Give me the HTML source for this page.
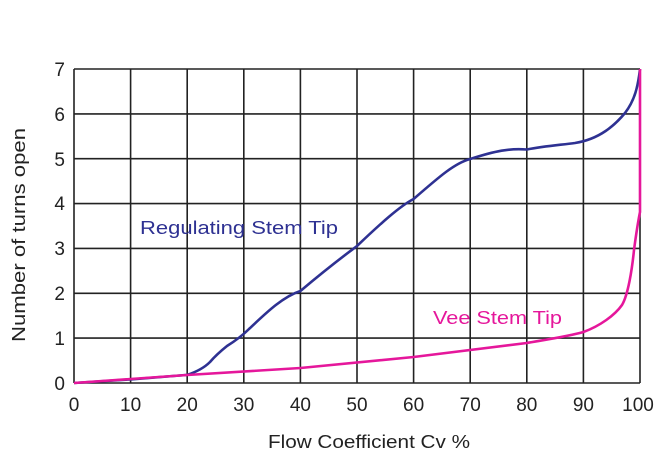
<!DOCTYPE html>
<html><head><style>body{margin:0;background:#fff}svg{display:block}</style></head><body>
<svg width="658" height="463" xmlns="http://www.w3.org/2000/svg" font-family="Liberation Sans, sans-serif">
<g stroke="#222" stroke-width="1.6">
<line x1="74" y1="69" x2="74" y2="383"/><line x1="130.6" y1="69" x2="130.6" y2="383"/><line x1="187.2" y1="69" x2="187.2" y2="383"/><line x1="243.8" y1="69" x2="243.8" y2="383"/><line x1="300.4" y1="69" x2="300.4" y2="383"/><line x1="357" y1="69" x2="357" y2="383"/><line x1="413.6" y1="69" x2="413.6" y2="383"/><line x1="470.2" y1="69" x2="470.2" y2="383"/><line x1="526.8" y1="69" x2="526.8" y2="383"/><line x1="583.4" y1="69" x2="583.4" y2="383"/><line x1="640" y1="69" x2="640" y2="383"/>
<line x1="74" y1="69" x2="640" y2="69"/><line x1="74" y1="113.9" x2="640" y2="113.9"/><line x1="74" y1="158.7" x2="640" y2="158.7"/><line x1="74" y1="203.6" x2="640" y2="203.6"/><line x1="74" y1="248.4" x2="640" y2="248.4"/><line x1="74" y1="293.3" x2="640" y2="293.3"/><line x1="74" y1="338.1" x2="640" y2="338.1"/><line x1="74" y1="383" x2="640" y2="383"/>
</g>
<g font-size="19" fill="#222" text-anchor="end">
<text x="65" y="390">0</text><text x="65" y="345">1</text><text x="65" y="300">2</text><text x="65" y="255">3</text><text x="65" y="210">4</text><text x="65" y="166">5</text><text x="65" y="121">6</text><text x="65" y="76">7</text>
</g>
<g font-size="19" fill="#222" text-anchor="middle">
<text x="74" y="411">0</text><text x="130.6" y="411">10</text><text x="187.2" y="411">20</text><text x="243.8" y="411">30</text><text x="300.4" y="411">40</text><text x="357" y="411">50</text><text x="413.6" y="411">60</text><text x="470.2" y="411">70</text><text x="526.8" y="411">80</text><text x="583.4" y="411">90</text><text x="638" y="411">100</text>
</g>
<text x="268" y="448" font-size="18" fill="#222" textLength="202" lengthAdjust="spacingAndGlyphs">Flow Coefficient Cv %</text>
<text transform="translate(25,342) rotate(-90)" font-size="18" fill="#222" textLength="214" lengthAdjust="spacingAndGlyphs">Number of turns open</text>
<path d="M74,383 L130.6,379.4 L187.2,374.9 C196,372 204,368 210,362 C216,355 222,350 227,346 C235,341 243,335 249,329 C265,314 282,297 300.4,291 C330,266 345,255 357,246 C380,224 400,206 413.6,199 C440,176 455,163 470.2,159 C495,151 510,148 526.8,149.5 C545,146 560,145 575,143 C600,139 615,125 625,113 C635,100 638,86 640,69" fill="none" stroke="#2e3192" stroke-width="2.6"/>
<path d="M74,383 L187.2,375 L300.4,368 L413.6,357 L526.8,343 C550,339 570,336 583.4,332 C600,326 615,315 622,305 C628,295 632,270 634,250 C636,235 638,222 640,212 L640,69" fill="none" stroke="#e5179b" stroke-width="2.6"/>
<text x="140" y="234" font-size="18.5" fill="#2e3192" textLength="198" lengthAdjust="spacingAndGlyphs">Regulating Stem Tip</text>
<text x="433" y="324" font-size="18.5" fill="#e5179b" textLength="129" lengthAdjust="spacingAndGlyphs">Vee Stem Tip</text>
</svg>
</body></html>
